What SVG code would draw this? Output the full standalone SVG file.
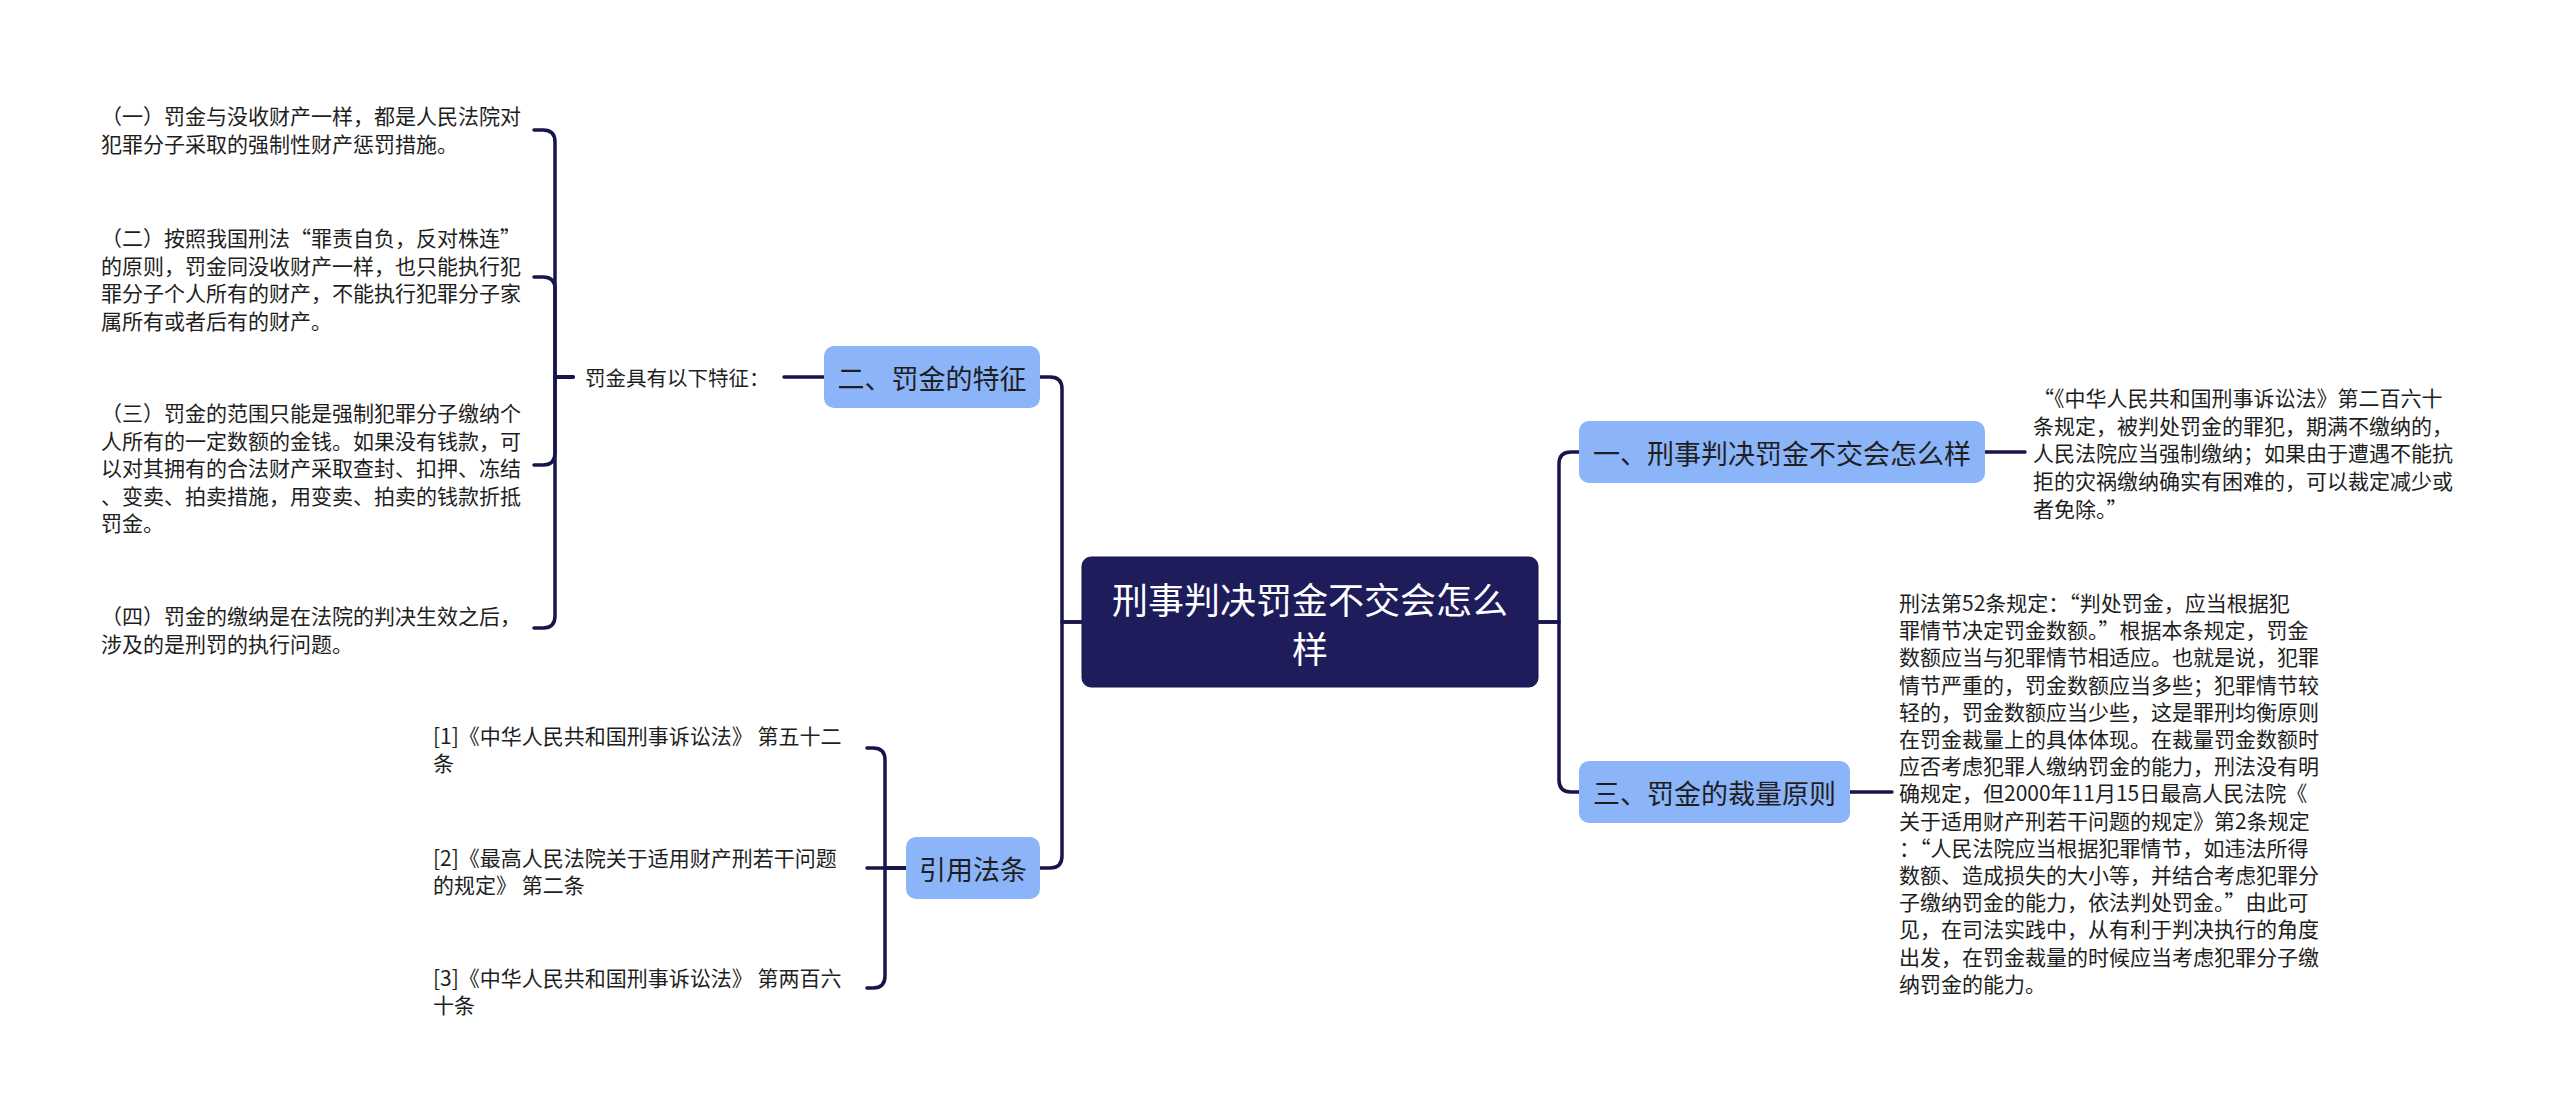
<svg xmlns="http://www.w3.org/2000/svg" width="2560" height="1117" viewBox="0 0 2560 1117">
<style>
.bg{fill:#ffffff}
.conn{fill:none;stroke:#17164b;stroke-width:3.5;stroke-linecap:round;stroke-linejoin:round}
.root rect{fill:#1e1c5b;stroke:#15144a;stroke-width:1}
.root text{fill:#ffffff;font-size:36px}
.sub rect{fill:#8cb4f8}
.sub text{fill:#1f1f1f;font-size:27px}
.leaf text{fill:#1e1e1e;font-size:21px}
.lbl text{fill:#1e1e1e;font-size:20.5px}
text{font-family:"Noto Sans CJK SC","Noto Sans",sans-serif;dominant-baseline:central}
.c{text-anchor:middle}
</style>
<rect class="bg" x="0" y="0" width="2560" height="1117"/>
<g id="connectors">
  <path class="conn" d="M1081 622 H1062 V389 Q1062 377 1050 377 H1040"/>
  <path class="conn" d="M1081 622 H1062 V856 Q1062 868 1050 868 H1040"/>
  <path class="conn" d="M1538 622 H1559 V464 Q1559 452 1571 452 H1579"/>
  <path class="conn" d="M1538 622 H1559 V780 Q1559 792 1571 792 H1579"/>
  <path class="conn" d="M1985 452 H2025"/>
  <path class="conn" d="M1850 792 H1892"/>
  <path class="conn" d="M824 377 H784"/>
  <path class="conn" d="M573 377 H555 V142 Q555 130 543 130 H534"/>
  <path class="conn" d="M573 377 H555 V289 Q555 277 543 277 H534"/>
  <path class="conn" d="M573 377 H555 V453 Q555 465 543 465 H534"/>
  <path class="conn" d="M573 377 H555 V616 Q555 628 543 628 H534"/>
  <path class="conn" d="M906 868 H867"/>
  <path class="conn" d="M906 868 H885 V760 Q885 748 873 748 H867"/>
  <path class="conn" d="M906 868 H885 V976 Q885 988 873 988 H867"/>
</g>
<g id="root" class="root">
  <rect x="1082" y="557" width="456" height="130" rx="9"/>
  <text class="c" x="1310" y="598">刑事判决罚金不交会怎么</text>
  <text class="c" x="1310" y="647">样</text>
</g>
<g id="n-features" class="sub">
  <rect x="824" y="346" width="216" height="62" rx="10"/>
  <text class="c" x="932" y="377">二、罚金的特征</text>
</g>
<g id="n-features-label" class="lbl">
  <text x="585" y="377">罚金具有以下特征：</text>
</g>
<g id="n-f1" class="leaf">
  <text x="101" y="115"><tspan x="101">（一）罚金与没收财产一样，都是人民法院对</tspan><tspan x="101" dy="27.6">犯罪分子采取的强制性财产惩罚措施。</tspan></text>
</g>
<g id="n-f2" class="leaf">
  <text x="101" y="237"><tspan x="101">（二）按照我国刑法“罪责自负，反对株连”</tspan><tspan x="101" dy="27.6">的原则，罚金同没收财产一样，也只能执行犯</tspan><tspan x="101" dy="27.6">罪分子个人所有的财产，不能执行犯罪分子家</tspan><tspan x="101" dy="27.6">属所有或者后有的财产。</tspan></text>
</g>
<g id="n-f3" class="leaf">
  <text x="101" y="412"><tspan x="101">（三）罚金的范围只能是强制犯罪分子缴纳个</tspan><tspan x="101" dy="27.6">人所有的一定数额的金钱。如果没有钱款，可</tspan><tspan x="101" dy="27.6">以对其拥有的合法财产采取查封、扣押、冻结</tspan><tspan x="101" dy="27.6">、变卖、拍卖措施，用变卖、拍卖的钱款折抵</tspan><tspan x="101" dy="27.6">罚金。</tspan></text>
</g>
<g id="n-f4" class="leaf">
  <text x="101" y="615"><tspan x="101">（四）罚金的缴纳是在法院的判决生效之后，</tspan><tspan x="101" dy="27.6">涉及的是刑罚的执行问题。</tspan></text>
</g>
<g id="n-refs" class="sub">
  <rect x="906" y="837" width="134" height="62" rx="10"/>
  <text class="c" x="973" y="868">引用法条</text>
</g>
<g id="n-r1" class="leaf">
  <text x="433" y="735"><tspan x="433">[1]《中华人民共和国刑事诉讼法》 第五十二</tspan><tspan x="433" dy="27">条</tspan></text>
</g>
<g id="n-r2" class="leaf">
  <text x="433" y="857"><tspan x="433">[2]《最高人民法院关于适用财产刑若干问题</tspan><tspan x="433" dy="27">的规定》 第二条</tspan></text>
</g>
<g id="n-r3" class="leaf">
  <text x="433" y="977"><tspan x="433">[3]《中华人民共和国刑事诉讼法》 第两百六</tspan><tspan x="433" dy="27">十条</tspan></text>
</g>
<g id="n-q1" class="sub">
  <rect x="1579" y="421" width="406" height="62" rx="10"/>
  <text class="c" x="1782" y="452">一、刑事判决罚金不交会怎么样</text>
</g>
<g id="n-q1-text" class="leaf">
  <text x="2033" y="397"><tspan x="2033">“《中华人民共和国刑事诉讼法》第二百六十</tspan><tspan x="2033" dy="27.7">条规定，被判处罚金的罪犯，期满不缴纳的，</tspan><tspan x="2033" dy="27.7">人民法院应当强制缴纳；如果由于遭遇不能抗</tspan><tspan x="2033" dy="27.7">拒的灾祸缴纳确实有困难的，可以裁定减少或</tspan><tspan x="2033" dy="27.7">者免除。”</tspan></text>
</g>
<g id="n-q3" class="sub">
  <rect x="1579" y="761" width="271" height="62" rx="10"/>
  <text class="c" x="1714.5" y="792">三、罚金的裁量原则</text>
</g>
<g id="n-q3-text" class="leaf">
  <text x="1899" y="602"><tspan x="1899">刑法第52条规定：“判处罚金，应当根据犯</tspan><tspan x="1899" dy="27.2">罪情节决定罚金数额。”根据本条规定，罚金</tspan><tspan x="1899" dy="27.2">数额应当与犯罪情节相适应。也就是说，犯罪</tspan><tspan x="1899" dy="27.2">情节严重的，罚金数额应当多些；犯罪情节较</tspan><tspan x="1899" dy="27.2">轻的，罚金数额应当少些，这是罪刑均衡原则</tspan><tspan x="1899" dy="27.2">在罚金裁量上的具体体现。在裁量罚金数额时</tspan><tspan x="1899" dy="27.2">应否考虑犯罪人缴纳罚金的能力，刑法没有明</tspan><tspan x="1899" dy="27.2">确规定，但2000年11月15日最高人民法院《</tspan><tspan x="1899" dy="27.2">关于适用财产刑若干问题的规定》第2条规定</tspan><tspan x="1899" dy="27.2">：“人民法院应当根据犯罪情节，如违法所得</tspan><tspan x="1899" dy="27.2">数额、造成损失的大小等，并结合考虑犯罪分</tspan><tspan x="1899" dy="27.2">子缴纳罚金的能力，依法判处罚金。”由此可</tspan><tspan x="1899" dy="27.2">见，在司法实践中，从有利于判决执行的角度</tspan><tspan x="1899" dy="27.2">出发，在罚金裁量的时候应当考虑犯罪分子缴</tspan><tspan x="1899" dy="27.2">纳罚金的能力。</tspan></text>
</g>
</svg>
